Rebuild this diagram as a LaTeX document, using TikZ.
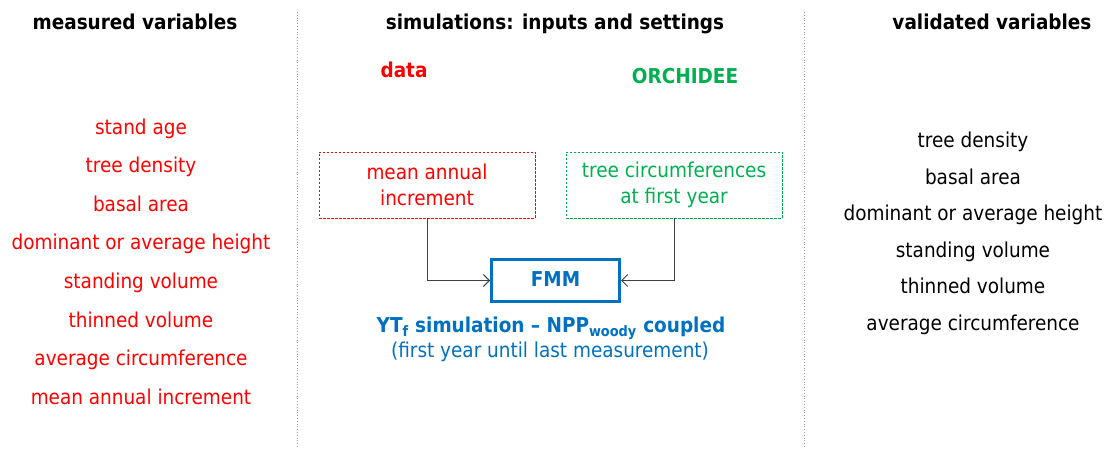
\documentclass[tikz,border=0pt]{standalone}
\usepackage{fontspec}
\setmainfont{DejaVu Sans Condensed}
\usetikzlibrary{arrows.meta}
\definecolor{cred}{HTML}{FF0000}
\definecolor{cgreen}{HTML}{00B050}
\definecolor{cblue}{HTML}{0070C0}
\begin{document}
\begin{tikzpicture}[x=1pt,y=-1pt,
  every node/.style={inner sep=0pt,font=\fontsize{20.5}{24}\selectfont,text height=15pt,text depth=4pt},
  txt/.style={yshift=-2pt},
  head/.style={txt,font=\fontsize{20.5}{24}\selectfont\bfseries},
  redtxt/.style={txt,text=cred},
  valtxt/.style={txt,text=black},
  inbox/.style={draw,dash pattern=on 2.5pt off 1.5pt,minimum width=216pt,minimum height=66pt,align=center,text height=,text depth=,font=\fontsize{20.5}{26}\selectfont},
  sep/.style={draw=gray!80,dotted,line width=0.8pt},
  conn/.style={draw=black!75,line width=0.9pt,-{Straight Barb[length=6pt,width=12pt]}}]
\useasboundingbox (0,0) rectangle (1114,449);
\path[sep] (297,12) -- (297,449);
\path[sep] (804,12) -- (804,449);
\node[head] (h1) at (135,22) {measured variables};
\node[head] (h2) at (555,22) {simulations: inputs and settings};
\node[head] (h3) at (992,22) {validated variables};
\node[head,text=cred] (data) at (404,70) {data};
\node[head,text=cgreen] (orc) at (685,76) {ORCHIDEE};
\foreach \t [count=\i] in {stand age,tree density,basal area,dominant or average height,standing volume,thinned volume,average circumference,mean annual increment}
  \node[redtxt] (m\i) at (141,{127+38.5*(\i-1)}) {\t};
\foreach \t [count=\i] in {tree density,basal area,dominant or average height,standing volume,thinned volume,average circumference}
  \node[valtxt] (v\i) at (973,{140+36.6*(\i-1)}) {\t};
\node[inbox,draw=cred,text=cred] (b1) at (427,185) {mean annual\\increment};
\node[inbox,draw=cgreen,text=cgreen] (b2) at (674,185) {tree circumferences\\at first year};
\node[draw=cblue,line width=3pt,minimum width=128pt,minimum height=42pt,text=cblue,font=\fontsize{20.5}{24}\selectfont\bfseries] (fmm) at (555.5,280.5) {FMM};
\path[conn] (b1.south) |- (fmm.west);
\path[conn] (b2.south) |- (fmm.east);
\node[txt,text=cblue,font=\fontsize{20.5}{24}\selectfont\bfseries] (yt) at (551,325) {YT\textsubscript{f} simulation -- NPP\textsubscript{woody} coupled};
\node[txt,text=cblue] (fy) at (550,350) {(first year until last measurement)};
\end{tikzpicture}
\end{document}
